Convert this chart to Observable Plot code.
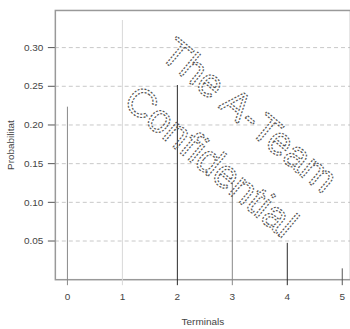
<!DOCTYPE html>
<html>
<head>
<meta charset="utf-8">
<script src="https://cdn.jsdelivr.net/npm/d3@7"></script>
<script src="https://cdn.jsdelivr.net/npm/@observablehq/plot@0.6"></script>
<style>
  html, body { margin: 0; padding: 0; background: #fff; overflow: hidden; }
  svg { display: block; }
</style>
</head>
<body>
<div id="chart"></div>
<script>
// Data
const terminals = [0, 1, 2, 3, 4, 5];
const probabilities = [0.223, 0.335, 0.251, 0.126, 0.047, 0.014];
const yTicks = [0.05, 0.10, 0.15, 0.20, 0.25, 0.30];
const xTicks = [0, 1, 2, 3, 4, 5];
const watermark = ["The A-Team", "Confidential"];

// Styling (separate from data)
const lineColors = ["#8a8a8a", "#d8d8d8", "#2a2a2a", "#888888", "#2a2a2a", "#555555"];

const rows = terminals.map((t, i) => ({t, p: probabilities[i], c: lineColors[i]}));

const chart = Plot.plot({
  width: 351,
  height: 329,
  marginTop: 10,
  marginBottom: 49,
  marginLeft: 55,
  marginRight: 0,
  style: {fontFamily: "Liberation Sans, Arial, sans-serif", fontSize: "11px", color: "#444"},
  x: {domain: [-0.22, 5.15]},
  y: {domain: [0, 0.348]},
  marks: [
    Plot.gridY(yTicks, {stroke: "#c8c8c8", strokeOpacity: 1, strokeDasharray: "4,3"}),
    Plot.frame({stroke: "#999", strokeWidth: 1.5}),
    Plot.ruleX(rows, {x: "t", y1: "p", y2: 0, stroke: "c", strokeWidth: 1, insetBottom: -6}),
    Plot.axisY(yTicks, {tickSize: 7, tickPadding: 5, tickFormat: d3.format(".2f"), stroke: "#555",
      label: "Probabilitat", labelAnchor: "center", labelArrow: "none", labelOffset: 49, fontSize: 10}),
    Plot.axisX(xTicks, {tickSize: 0, tickPadding: 13, tickFormat: d3.format("d"),
      label: "Terminals", labelAnchor: "center", labelArrow: "none", labelOffset: 45, fontSize: 10}),
    Plot.text([watermark.join("\n")], {
      frameAnchor: "middle", dx: 31, dy: -11, rotate: 40,
      fontSize: 40, lineHeight: 1.5, fontFamily: "Liberation Sans, Arial, sans-serif",
      fill: "none", stroke: "#555", strokeWidth: 1.2, strokeDasharray: "2,1.5"
    })
  ]
});
document.getElementById("chart").appendChild(chart);
</script>
</body>
</html>
